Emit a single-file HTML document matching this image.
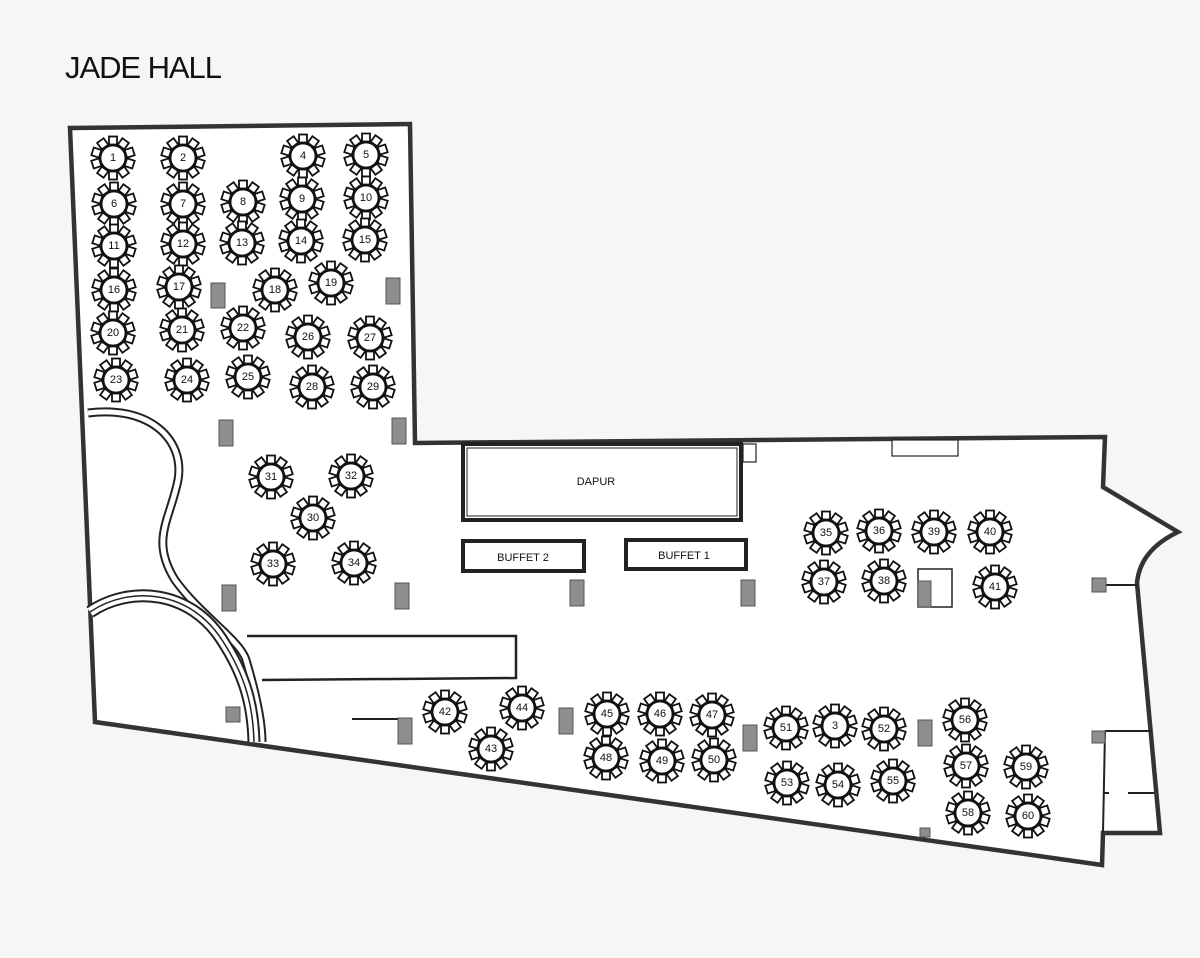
<!DOCTYPE html>
<html><head><meta charset="utf-8"><style>
html,body{margin:0;padding:0;background:#f3f3f3}
svg{display:block}
text{font-family:"Liberation Sans",sans-serif}
.n{font-size:11px;text-anchor:middle;dominant-baseline:central;fill:#111}
.p{fill:#8e8e8e;stroke:#555;stroke-width:1}
</style></head><body>
<svg width="1200" height="958" viewBox="0 0 1200 958" xmlns="http://www.w3.org/2000/svg">
<defs>
<g id="t" fill="#fff" stroke="#111" stroke-width="1.8">
<g id="ch"><rect x="-4" y="-21.5" width="8" height="8"/></g>
<use href="#ch" transform="rotate(36)"/><use href="#ch" transform="rotate(72)"/><use href="#ch" transform="rotate(108)"/><use href="#ch" transform="rotate(144)"/><use href="#ch" transform="rotate(180)"/><use href="#ch" transform="rotate(216)"/><use href="#ch" transform="rotate(252)"/><use href="#ch" transform="rotate(288)"/><use href="#ch" transform="rotate(324)"/>
<circle r="12.5"/>
</g>
</defs>
<rect width="1200" height="958" fill="#f6f6f6"/>
<text x="65" y="78" font-size="31" fill="#111" textLength="157">JADE HALL</text>
<path d="M70,128 L410,124 L415,443 L1105,437 L1103,487 L1178,532 Q1140,550 1137,583 L1160,833 L1103,833 L1102,865 L95,722 Z" fill="#fff" stroke="#333" stroke-width="4.5" stroke-linejoin="miter"/>
<g fill="none" stroke="#222">
<path d="M88,413 C150,405 185,440 178,480 C170,520 150,540 175,580 C200,615 240,640 246,660 C255,690 262,720 262,742" stroke-width="9"/>
<path d="M88,413 C150,405 185,440 178,480 C170,520 150,540 175,580 C200,615 240,640 246,660 C255,690 262,720 262,742" stroke-width="5" stroke="#fff"/>
<path d="M90,612 C130,585 190,590 222,640 C245,675 253,705 254,742" stroke-width="13"/>
<path d="M90,612 C130,585 190,590 222,640 C245,675 253,705 254,742" stroke-width="9" stroke="#fff"/>
<path d="M90,612 C130,585 190,590 222,640 C245,675 253,705 254,742" stroke-width="1.5"/>
</g>
<path d="M247,636 L516,636 L516,678 L262,680" fill="none" stroke="#222" stroke-width="2.5"/>
<rect x="463" y="444" width="278" height="76" fill="#fff" stroke="#222" stroke-width="4"/>
<rect x="467" y="448" width="270" height="68" fill="none" stroke="#222" stroke-width="1"/>
<text x="596" y="485" font-size="11" text-anchor="middle" fill="#111">DAPUR</text>
<rect x="743" y="444" width="13" height="18" fill="#fff" stroke="#222" stroke-width="1.2"/>
<rect x="892" y="440" width="66" height="16" fill="#fff" stroke="#222" stroke-width="1.2"/>
<rect x="463" y="541" width="121" height="30" fill="#fff" stroke="#222" stroke-width="4"/>
<text x="523" y="561" font-size="11" text-anchor="middle" fill="#111">BUFFET 2</text>
<rect x="626" y="540" width="120" height="29" fill="#fff" stroke="#222" stroke-width="4"/>
<text x="684" y="559" font-size="11" text-anchor="middle" fill="#111">BUFFET 1</text>
<rect x="918" y="569" width="34" height="38" fill="#fff" stroke="#222" stroke-width="1.5"/>
<g stroke="#222" stroke-width="2" fill="none">
<line x1="352" y1="719" x2="405" y2="719"/>
<line x1="1106" y1="585" x2="1137" y2="585"/>
<path d="M1105,731 L1152,731 M1105,731 L1103,833 M1128,793 L1154,793 M1104,793 L1109,793"/>
</g>
<g class="p">
<rect x="211" y="283" width="14" height="25"/><rect x="386" y="278" width="14" height="26"/>
<rect x="219" y="420" width="14" height="26"/><rect x="392" y="418" width="14" height="26"/>
<rect x="222" y="585" width="14" height="26"/><rect x="395" y="583" width="14" height="26"/>
<rect x="570" y="580" width="14" height="26"/><rect x="741" y="580" width="14" height="26"/>
<rect x="918" y="581" width="13" height="26"/>
<rect x="398" y="718" width="14" height="26"/><rect x="559" y="708" width="14" height="26"/>
<rect x="743" y="725" width="14" height="26"/><rect x="918" y="720" width="14" height="26"/>
<rect x="226" y="707" width="14" height="15"/><rect x="1092" y="578" width="14" height="14"/>
<rect x="1092" y="731" width="13" height="12"/><rect x="920" y="828" width="10" height="9"/>
</g>
<g>
<use href="#t" x="113" y="158"/><text class="n" x="113" y="158">1</text>
<use href="#t" x="183" y="158"/><text class="n" x="183" y="158">2</text>
<use href="#t" x="303" y="156"/><text class="n" x="303" y="156">4</text>
<use href="#t" x="366" y="155"/><text class="n" x="366" y="155">5</text>
<use href="#t" x="114" y="204"/><text class="n" x="114" y="204">6</text>
<use href="#t" x="183" y="204"/><text class="n" x="183" y="204">7</text>
<use href="#t" x="243" y="202"/><text class="n" x="243" y="202">8</text>
<use href="#t" x="302" y="199"/><text class="n" x="302" y="199">9</text>
<use href="#t" x="366" y="198"/><text class="n" x="366" y="198">10</text>
<use href="#t" x="114" y="246"/><text class="n" x="114" y="246">11</text>
<use href="#t" x="183" y="244"/><text class="n" x="183" y="244">12</text>
<use href="#t" x="242" y="243"/><text class="n" x="242" y="243">13</text>
<use href="#t" x="301" y="241"/><text class="n" x="301" y="241">14</text>
<use href="#t" x="365" y="240"/><text class="n" x="365" y="240">15</text>
<use href="#t" x="114" y="290"/><text class="n" x="114" y="290">16</text>
<use href="#t" x="179" y="287"/><text class="n" x="179" y="287">17</text>
<use href="#t" x="275" y="290"/><text class="n" x="275" y="290">18</text>
<use href="#t" x="331" y="283"/><text class="n" x="331" y="283">19</text>
<use href="#t" x="113" y="333"/><text class="n" x="113" y="333">20</text>
<use href="#t" x="182" y="330"/><text class="n" x="182" y="330">21</text>
<use href="#t" x="243" y="328"/><text class="n" x="243" y="328">22</text>
<use href="#t" x="308" y="337"/><text class="n" x="308" y="337">26</text>
<use href="#t" x="370" y="338"/><text class="n" x="370" y="338">27</text>
<use href="#t" x="116" y="380"/><text class="n" x="116" y="380">23</text>
<use href="#t" x="187" y="380"/><text class="n" x="187" y="380">24</text>
<use href="#t" x="248" y="377"/><text class="n" x="248" y="377">25</text>
<use href="#t" x="312" y="387"/><text class="n" x="312" y="387">28</text>
<use href="#t" x="373" y="387"/><text class="n" x="373" y="387">29</text>
<use href="#t" x="271" y="477"/><text class="n" x="271" y="477">31</text>
<use href="#t" x="351" y="476"/><text class="n" x="351" y="476">32</text>
<use href="#t" x="313" y="518"/><text class="n" x="313" y="518">30</text>
<use href="#t" x="273" y="564"/><text class="n" x="273" y="564">33</text>
<use href="#t" x="354" y="563"/><text class="n" x="354" y="563">34</text>
<use href="#t" x="826" y="533"/><text class="n" x="826" y="533">35</text>
<use href="#t" x="879" y="531"/><text class="n" x="879" y="531">36</text>
<use href="#t" x="934" y="532"/><text class="n" x="934" y="532">39</text>
<use href="#t" x="990" y="532"/><text class="n" x="990" y="532">40</text>
<use href="#t" x="824" y="582"/><text class="n" x="824" y="582">37</text>
<use href="#t" x="884" y="581"/><text class="n" x="884" y="581">38</text>
<use href="#t" x="995" y="587"/><text class="n" x="995" y="587">41</text>
<use href="#t" x="445" y="712"/><text class="n" x="445" y="712">42</text>
<use href="#t" x="522" y="708"/><text class="n" x="522" y="708">44</text>
<use href="#t" x="491" y="749"/><text class="n" x="491" y="749">43</text>
<use href="#t" x="607" y="714"/><text class="n" x="607" y="714">45</text>
<use href="#t" x="660" y="714"/><text class="n" x="660" y="714">46</text>
<use href="#t" x="712" y="715"/><text class="n" x="712" y="715">47</text>
<use href="#t" x="786" y="728"/><text class="n" x="786" y="728">51</text>
<use href="#t" x="835" y="726"/><text class="n" x="835" y="726">3</text>
<use href="#t" x="884" y="729"/><text class="n" x="884" y="729">52</text>
<use href="#t" x="965" y="720"/><text class="n" x="965" y="720">56</text>
<use href="#t" x="606" y="758"/><text class="n" x="606" y="758">48</text>
<use href="#t" x="662" y="761"/><text class="n" x="662" y="761">49</text>
<use href="#t" x="714" y="760"/><text class="n" x="714" y="760">50</text>
<use href="#t" x="787" y="783"/><text class="n" x="787" y="783">53</text>
<use href="#t" x="838" y="785"/><text class="n" x="838" y="785">54</text>
<use href="#t" x="893" y="781"/><text class="n" x="893" y="781">55</text>
<use href="#t" x="966" y="766"/><text class="n" x="966" y="766">57</text>
<use href="#t" x="1026" y="767"/><text class="n" x="1026" y="767">59</text>
<use href="#t" x="968" y="813"/><text class="n" x="968" y="813">58</text>
<use href="#t" x="1028" y="816"/><text class="n" x="1028" y="816">60</text>
</g>
</svg>
</body></html>
